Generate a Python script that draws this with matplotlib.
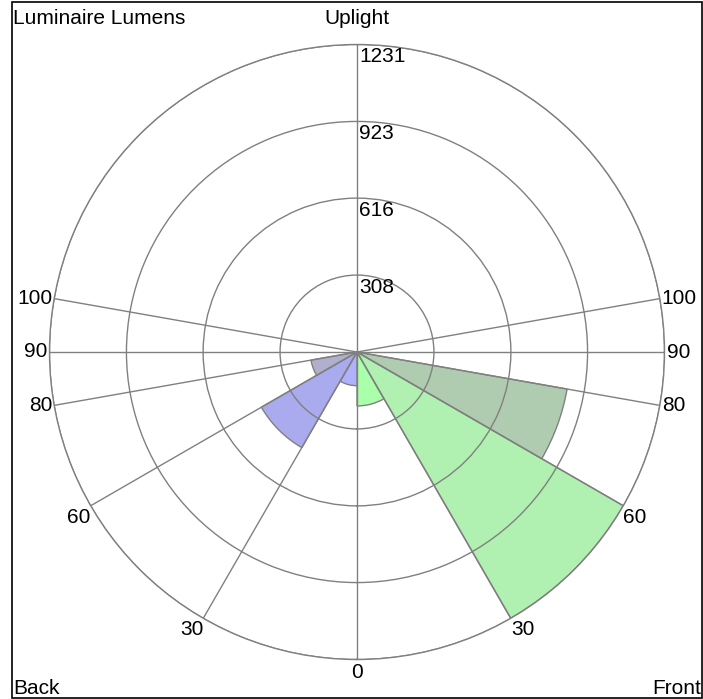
import numpy as np
import matplotlib
matplotlib.use('Agg')
import matplotlib.pyplot as plt
from matplotlib.patches import Rectangle
from matplotlib.transforms import offset_copy

plt.rcParams['font.family'] = ['Liberation Sans', 'DejaVu Sans']

# vertical angle bands (degrees from nadir)
band_start = [0, 30, 60]
band_end = [30, 60, 80]
front_lumens = [216, 1231, 854]
back_lumens = [135, 442, 187]
front_colors = ['#aaffaa', '#b0f0b0', '#b0ccb0']
back_colors = ['#b0b0ff', '#aaaaee', '#b0b0cc']

angle_ticks = [0, 30, 60, 80, 90, 100]
r_max = 1231
ring_values = [308, 616, 923, 1231]

W, H = 703, 699
fig = plt.figure(figsize=(W / 100, H / 100), dpi=100)
cx, cy, rad = 357, 352, 307.5
ax = fig.add_axes([(cx - rad) / W, (H - cy - rad) / H, 2 * rad / W, 2 * rad / H],
                  projection='polar')
ax.set_theta_zero_location('S')
ax.set_theta_direction(1)
ax.set_ylim(0, r_max)

grey = '#808080'
for a, b, v, c in zip(band_start, band_end, front_lumens, front_colors):
    ax.bar(np.radians((a + b) / 2), v, width=np.radians(b - a), bottom=0,
           color=c, edgecolor=grey, linewidth=1, zorder=1)
for a, b, v, c in zip(band_start, band_end, back_lumens, back_colors):
    ax.bar(np.radians(360 - (a + b) / 2), v, width=np.radians(b - a), bottom=0,
           color=c, edgecolor=grey, linewidth=1, zorder=1)

grid_angles = sorted(set(angle_ticks + [180] + [360 - t for t in angle_ticks if t > 0]))
ax.set_thetagrids(grid_angles, labels=[''] * len(grid_angles))
ax.set_rgrids(ring_values, labels=[''] * len(ring_values))
ax.grid(True, color=grey, linewidth=1)
ax.set_axisbelow(False)
ax.spines['polar'].set_color(grey)
ax.spines['polar'].set_linewidth(1)
ax.patch.set_alpha(0)

fs = 15
# radial labels along the uplight axis
rlab = offset_copy(ax.transData, fig=fig, x=2, y=-3, units='dots')
for v in ring_values:
    ax.text(np.radians(180), v, str(v), transform=rlab, ha='left', va='top',
            fontsize=fs)

# angle labels at the outer ring
for t in angle_ticks:
    for side in (1, -1):
        if t == 0 and side == -1:
            continue
        th = np.radians(t if side == 1 else 360 - t)
        if t == 0:
            ha, va, dx, dy = 'center', 'top', 0, -3
        elif t >= 80:
            ha, va = ('left' if side == 1 else 'right'), 'center'
            dx, dy = 2 * side, 0
        else:
            ha, va = ('left' if side == 1 else 'right'), 'top'
            dx, dy = 0, -2
        tr = offset_copy(ax.transData, fig=fig, x=dx, y=dy, units='dots')
        ax.text(th, r_max, str(t), transform=tr, ha=ha, va=va, fontsize=fs,
                clip_on=False)

fig.text(13 / W, 1 - 19 / H, 'Luminaire Lumens', ha='left', va='center', fontsize=fs)
fig.text(cx / W, 1 - 19 / H, 'Uplight', ha='center', va='center', fontsize=fs)
fig.text(13 / W, 1 - 694 / H, 'Back', ha='left', va='baseline', fontsize=fs)
fig.text(701 / W, 1 - 694 / H, 'Front', ha='right', va='baseline', fontsize=fs)

fig.add_artist(Rectangle((12 / W, 1 / H), 690 / W, 696 / H, transform=fig.transFigure,
                         fill=False, edgecolor='black', linewidth=1.2))

fig.savefig('out.png', dpi=100)
